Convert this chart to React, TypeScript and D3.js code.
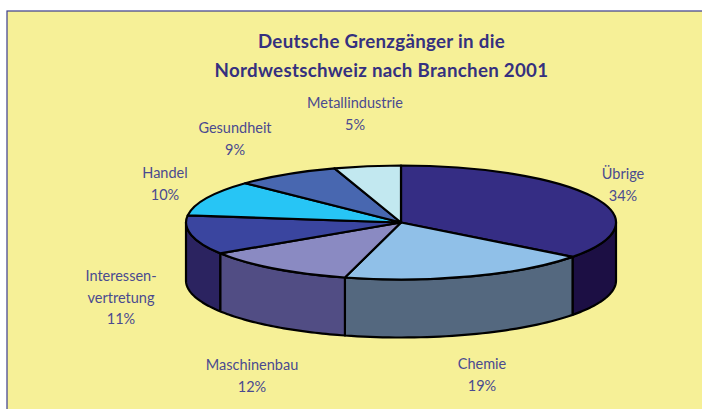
import React from "react";
import * as d3 from "d3";

const categories = ["Übrige", "Chemie", "Maschinenbau", "Interessen-|vertretung", "Handel", "Gesundheit", "Metallindustrie"];
const percentLabels = [34, 19, 12, 11, 10, 9, 5];
// Wedge sizes as actually drawn in the picture (perspective makes them differ a little from the labels)
const drawnShares = [35.3, 18.9, 11.7, 11.1, 10.1, 7.9, 5.0];
const topColors = ["#352d84", "#90c0e8", "#8a8ac2", "#3a459f", "#27c5f5", "#4867b0", "#c2e8f0"];
const wallColors = ["#1c0f44", "#54687f", "#514d84", "#2b2360", "#2b2360", "#2b2360", "#2b2360"];
const labelAnchors = [
  [623, 179], [482, 369], [252, 370], [121, 281], [165, 178], [235, 133], [355, 108],
];
const titleLines = ["Deutsche Grenzgänger in die", "Nordwestschweiz nach Branchen 2001"];

const W = 702, H = 409;
const cx = 401, cy = 222.5, rx = 215, ry = 57, depth = 58;
const ink = "#4a4a90";
const font = "Lato, 'Open Sans', sans-serif";

export default function App() {
  const pie = d3.pie<number>().sort(null).value((d) => d)(drawnShares);
  const arc = d3.arc<any>().innerRadius(0).outerRadius(rx);
  const pt = (t: number, dy = 0): [number, number] => [cx + rx * Math.sin(t), cy - ry * Math.cos(t) + dy];
  const edge = (a: number, b: number, dy = 0) =>
    d3.range(0, 41).map((i) => pt(a + ((b - a) * i) / 40, dy));
  const line = d3.line();

  const walls = pie
    .map((s, i) => {
      const a = Math.max(s.startAngle, Math.PI / 2);
      const b = Math.min(s.endAngle, (3 * Math.PI) / 2);
      if (a >= b) return null;
      const pts = [...edge(a, b), ...edge(b, a, depth)];
      return { i, a, b, d: line(pts)! + "Z" };
    })
    .filter(Boolean) as { i: number; a: number; b: number; d: string }[];

  return (
    <svg width={W} height={H} style={{ position: "absolute", left: 0, top: 0, background: "#fff" }}>
      <rect x={7} y={11} width={W} height={H} fill="#f6f097" stroke="#3d3d8e" strokeWidth={1.2} />
      {titleLines.map((t, i) => (
        <text key={t} x={381.5} y={48 + i * 29} textAnchor="middle" fontFamily={font} fontWeight={700} fontSize={18.7} fill="#35307f" letterSpacing={0.3}>
          {t}
        </text>
      ))}
      {walls.map((w) => (
        <path key={w.i} d={w.d} fill={wallColors[w.i]} stroke="#000" strokeWidth={2.2} strokeLinejoin="round" />
      ))}
      <g transform={`translate(${cx},${cy}) scale(1,${ry / rx})`}>
        {pie.map((s, i) => (
          <path key={i} d={arc(s)!} fill={topColors[i]} stroke="#000" strokeWidth={2.2} strokeLinejoin="round" vectorEffect="non-scaling-stroke" />
        ))}
      </g>
      {categories.map((c, i) => {
        const lines = [...c.split("|"), `${percentLabels[i]}%`];
        const [x, y] = labelAnchors[i];
        return (
          <text key={c} textAnchor="middle" fontFamily={font} fontSize={14.5} fill={ink}>
            {lines.map((l, j) => (
              <tspan key={j} x={x} y={y + j * 21.5}>{l}</tspan>
            ))}
          </text>
        );
      })}
    </svg>
  );
}
